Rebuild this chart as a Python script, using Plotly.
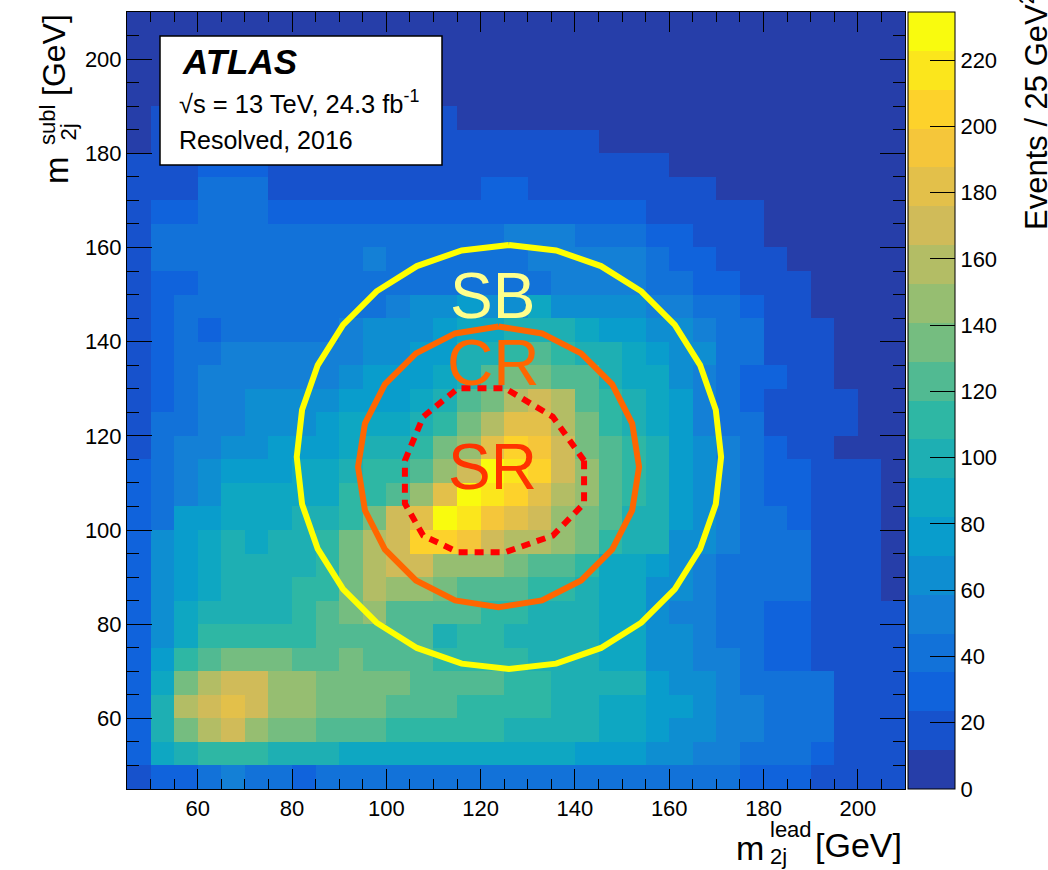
import math
import plotly.graph_objects as go

# ---------------- data ----------------
x_edges = [45 + 5 * i for i in range(34)]   # m_2j^lead bin edges [GeV]
y_edges = [45 + 5 * i for i in range(34)]   # m_2j^subl bin edges [GeV]

# Events per 5x5 GeV bin, rows listed from top (m_subl 205-210) to bottom (45-50)
counts_top_down = [
    [6]*33,
    [6]*33,
    [6]*33,
    [6]*33,
    [6] + [18]*13 + [6]*19,
    [6] + [18]*19 + [6]*13,
    [18, 18, 18, 29, 29, 29] + [18]*17 + [6]*10,
    [18, 18, 18, 41, 41, 41] + [18]*9 + [29, 29] + [18]*8 + [6]*8,
    [18, 29, 29, 41, 41, 41] + [29]*16 + [18]*5 + [6]*6,
    [18] + [41]*15 + [53, 53, 53] + [41]*3 + [29, 29] + [18]*3 + [6]*6,
    [18] + [41]*9 + [53] + [41]*6 + [53]*5 + [41, 29, 29, 18, 18, 18] + [6]*5,
    [18, 29, 29] + [41]*15 + [53]*4 + [41, 41, 29, 29, 18, 18, 18, 6, 6, 6, 6],
    [18, 29, 41, 41, 41, 41, 41, 41, 41, 41, 41, 53, 65, 65, 76, 65, 65, 88, 65, 65, 65, 65, 53, 53, 41, 41, 29, 18, 18, 6, 6, 6, 6],
    [18, 29, 41, 29, 41, 41, 41, 41, 41, 53, 65, 65, 65, 76, 88, 88, 100, 100, 100, 88, 76, 76, 65, 65, 53, 41, 41, 18, 18, 18, 6, 6, 6],
    [18, 29, 41, 41, 53, 53, 53, 53, 53, 53, 65, 65, 76, 76, 100, 100, 111, 123, 111, 100, 100, 88, 76, 65, 65, 41, 41, 18, 18, 18, 6, 6, 6],
    [18, 29, 41, 53, 53, 53, 53, 53, 53, 65, 76, 76, 76, 88, 100, 123, 135, 135, 123, 123, 100, 88, 88, 65, 53, 41, 29, 29, 18, 18, 6, 6, 6],
    [18, 29, 41, 53, 53, 65, 65, 65, 65, 76, 76, 76, 88, 100, 123, 135, 158, 170, 158, 123, 111, 100, 88, 76, 53, 41, 29, 18, 18, 18, 18, 6, 6],
    [18, 41, 41, 53, 53, 65, 65, 65, 76, 88, 88, 88, 100, 111, 135, 158, 182, 182, 158, 135, 111, 100, 88, 76, 53, 41, 41, 18, 18, 18, 18, 6, 6],
    [18, 41, 53, 53, 65, 65, 76, 76, 76, 88, 100, 100, 111, 135, 147, 182, 205, 193, 170, 135, 123, 111, 100, 76, 65, 53, 41, 29, 18, 18, 6, 6, 6],
    [29, 41, 53, 65, 76, 76, 76, 88, 88, 100, 111, 111, 123, 147, 170, 229, 217, 205, 170, 147, 123, 111, 100, 76, 65, 53, 41, 29, 29, 18, 18, 18, 6],
    [29, 41, 53, 65, 88, 88, 88, 88, 88, 111, 111, 123, 147, 182, 229, 217, 205, 182, 158, 147, 123, 111, 100, 76, 65, 53, 41, 29, 29, 18, 18, 18, 6],
    [29, 41, 76, 76, 88, 88, 88, 100, 100, 111, 135, 170, 182, 234, 217, 193, 182, 170, 147, 135, 123, 100, 100, 76, 65, 53, 41, 41, 29, 18, 18, 18, 6],
    [29, 65, 76, 88, 100, 88, 100, 100, 111, 135, 158, 170, 205, 205, 193, 170, 158, 158, 147, 135, 111, 100, 100, 65, 65, 53, 41, 41, 41, 18, 18, 18, 6],
    [29, 65, 76, 88, 100, 100, 100, 100, 111, 135, 158, 170, 170, 147, 147, 147, 135, 123, 123, 111, 88, 88, 76, 65, 53, 41, 41, 41, 41, 18, 18, 18, 6],
    [29, 65, 76, 88, 100, 100, 100, 111, 111, 135, 158, 147, 147, 135, 123, 123, 123, 111, 111, 100, 88, 88, 65, 65, 53, 41, 41, 41, 41, 18, 18, 18, 6],
    [29, 65, 88, 100, 100, 100, 100, 111, 123, 135, 147, 123, 123, 123, 123, 111, 111, 100, 100, 100, 88, 88, 65, 53, 53, 41, 41, 29, 29, 18, 18, 18, 18],
    [29, 65, 88, 111, 111, 111, 111, 111, 123, 123, 123, 123, 123, 100, 111, 111, 100, 100, 100, 100, 88, 88, 65, 65, 53, 41, 41, 29, 29, 18, 18, 18, 18],
    [29, 76, 111, 123, 135, 135, 135, 123, 123, 135, 123, 123, 123, 111, 111, 111, 111, 100, 100, 100, 88, 88, 65, 65, 53, 53, 41, 29, 29, 18, 18, 18, 18],
    [29, 88, 135, 158, 170, 170, 147, 147, 135, 135, 135, 135, 123, 123, 123, 123, 111, 111, 100, 100, 100, 100, 76, 65, 65, 53, 41, 41, 41, 41, 18, 18, 18],
    [29, 100, 158, 170, 182, 170, 147, 147, 135, 135, 135, 123, 123, 123, 111, 111, 111, 111, 100, 100, 88, 88, 76, 76, 65, 53, 53, 41, 41, 41, 18, 18, 18],
    [29, 100, 135, 158, 170, 147, 135, 135, 123, 123, 123, 111, 111, 111, 111, 111, 100, 100, 100, 100, 88, 88, 76, 65, 65, 53, 53, 41, 41, 41, 18, 18, 18],
    [29, 88, 100, 111, 111, 111, 100, 100, 100, 88, 88, 88, 88, 88, 88, 88, 88, 88, 88, 76, 76, 76, 65, 65, 53, 53, 41, 41, 41, 29, 18, 18, 18],
    [18, 29, 29, 41, 53, 41, 41, 29, 41, 41, 41, 41, 41, 41, 41, 41, 41, 41, 41, 41, 41, 41, 41, 41, 41, 41, 29, 29, 29, 18, 18, 18, 18],
]
z_counts = counts_top_down[::-1]
z_max = 234.5

# region definitions: (centre lead, centre subl, radius) [GeV]
sb_circle = (126.0, 115.5, 45.0)
cr_circle = (123.8, 113.4, 29.8)
sr_def = (120.0, 110.0, 1.6)   # X_hh = sqrt(((ml-120)/0.1ml)^2 + ((ms-110)/0.1ms)^2) < 1.6

x_tick_vals = [60, 80, 100, 120, 140, 160, 180, 200]
y_tick_vals = [60, 80, 100, 120, 140, 160, 180, 200]
cb_tick_vals = [0, 20, 40, 60, 80, 100, 120, 140, 160, 180, 200, 220]

# ---------------- styling ----------------
# ROOT kBird palette, 20 contour levels
bird_stops = [0.0, 0.125, 0.25, 0.375, 0.5, 0.625, 0.75, 0.875, 1.0]
bird_r = [0.2082, 0.0592, 0.0780, 0.0232, 0.1802, 0.5301, 0.8186, 0.9956, 0.9764]
bird_g = [0.1664, 0.3599, 0.5041, 0.6419, 0.7178, 0.7492, 0.7328, 0.7862, 0.9832]
bird_b = [0.5293, 0.8684, 0.8385, 0.7914, 0.6425, 0.4662, 0.3499, 0.1968, 0.0539]


def bird(f):
    for k in range(len(bird_stops) - 1):
        if f <= bird_stops[k + 1]:
            t = (f - bird_stops[k]) / (bird_stops[k + 1] - bird_stops[k])
            r = bird_r[k] + t * (bird_r[k + 1] - bird_r[k])
            g = bird_g[k] + t * (bird_g[k + 1] - bird_g[k])
            b = bird_b[k] + t * (bird_b[k + 1] - bird_b[k])
            return "rgb(%d,%d,%d)" % (round(r * 255), round(g * 255), round(b * 255))
    return "rgb(249,251,14)"


n_levels = 20
colorscale = []
for i in range(n_levels):
    c = bird(min(1.0, (i + 0.99) / n_levels))
    colorscale.append([i / n_levels, c])
    colorscale.append([(i + 1) / n_levels, c])

x_centres = [(x_edges[i] + x_edges[i + 1]) / 2 for i in range(len(x_edges) - 1)]
y_centres = [(y_edges[i] + y_edges[i + 1]) / 2 for i in range(len(y_edges) - 1)]

FONT = "Liberation Sans, Arial, Helvetica, sans-serif"

fig = go.Figure()
fig.add_trace(go.Heatmap(
    x=x_centres, y=y_centres, z=z_counts,
    zmin=0, zmax=z_max, colorscale=colorscale,
    hoverinfo="skip",
    colorbar=dict(
        x=1.004, xanchor="left", y=0, yanchor="bottom", len=1, lenmode="fraction",
        thickness=47, thicknessmode="pixels", xpad=0, ypad=0,
        outlinewidth=1, outlinecolor="black",
        tickvals=cb_tick_vals, ticks="inside", ticklen=25, tickwidth=1, tickcolor="black",
        tickfont=dict(family=FONT, size=22, color="black"),
    ),
))


def polygon(cx, cy, r, n, offset):
    xs, ys = [], []
    for k in range(n + 1):
        a = offset + 2 * math.pi * k / n
        xs.append(cx + r * math.cos(a))
        ys.append(cy + r * math.sin(a))
    return xs, ys


sbx, sby = polygon(*sb_circle, 28, math.pi / 2)
crx, cry = polygon(*cr_circle, 20, math.pi / 2)

n_sr = 12
srx, sry = [], []
for k in range(n_sr + 1):
    a = math.pi / n_sr + 2 * math.pi * k / n_sr
    u = sr_def[2] * math.cos(a)
    v = sr_def[2] * math.sin(a)
    srx.append(sr_def[0] / (1 - u / 10))
    sry.append(sr_def[1] / (1 - v / 10))

fig.add_trace(go.Scatter(x=sbx, y=sby, mode="lines", line=dict(color="#ffff00", width=6),
                         hoverinfo="skip", showlegend=False))
fig.add_trace(go.Scatter(x=crx, y=cry, mode="lines", line=dict(color="#ff6600", width=6),
                         hoverinfo="skip", showlegend=False))
fig.add_trace(go.Scatter(x=srx, y=sry, mode="lines",
                         line=dict(color="#ff0000", width=6, dash="9px,7px"),
                         hoverinfo="skip", showlegend=False))

W, H = 1048, 870
L, R, T, B = 127, 143, 12, 81


def px(xp):
    return (xp - L) / (W - L - R)


def py(yp):
    return (H - B - yp) / (H - T - B)


annotations = [
    dict(x=122.6, y=149.7, xref="x", yref="y", text="SB", showarrow=False,
         font=dict(family=FONT, size=64, color="#ffff8c")),
    dict(x=122.7, y=135.5, xref="x", yref="y", text="CR", showarrow=False,
         font=dict(family=FONT, size=64, color="#ff6600")),
    dict(x=122.5, y=113.4, xref="x", yref="y", text="SR", showarrow=False,
         font=dict(family=FONT, size=64, color="#ff3300")),
    # legend box text
    dict(x=px(180), y=py(61), xref="paper", yref="paper", xanchor="left", yanchor="middle",
         text="<b><i>ATLAS</i></b>", showarrow=False, font=dict(family=FONT, size=35, color="black")),
    dict(x=px(177), y=py(102), xref="paper", yref="paper", xanchor="left", yanchor="middle",
         text="\u221As = 13 TeV, 24.3 fb<sup>-1</sup>", showarrow=False,
         font=dict(family=FONT, size=25.5, color="black")),
    dict(x=px(177), y=py(140), xref="paper", yref="paper", xanchor="left", yanchor="middle",
         text="Resolved, 2016", showarrow=False, font=dict(family=FONT, size=25, color="black")),
    # x axis title pieces
    dict(x=px(766), y=py(848), xref="paper", yref="paper", xanchor="right", yanchor="middle",
         text="m", showarrow=False, font=dict(family=FONT, size=34, color="black")),
    dict(x=px(768), y=py(829), xref="paper", yref="paper", xanchor="left", yanchor="middle",
         text="lead", showarrow=False, font=dict(family=FONT, size=22, color="black")),
    dict(x=px(768), y=py(856), xref="paper", yref="paper", xanchor="left", yanchor="middle",
         text="2j", showarrow=False, font=dict(family=FONT, size=22, color="black")),
    dict(x=px(904), y=py(845), xref="paper", yref="paper", xanchor="right", yanchor="middle",
         text="[GeV]", showarrow=False, font=dict(family=FONT, size=34, color="black")),
    # y axis title pieces (rotated)
    dict(x=px(54), y=py(12), xref="paper", yref="paper", xanchor="center", yanchor="top",
         text="[GeV]", textangle=-90, showarrow=False, font=dict(family=FONT, size=32, color="black")),
    dict(x=px(47), y=py(103), xref="paper", yref="paper", xanchor="center", yanchor="top",
         text="subl", textangle=-90, showarrow=False, font=dict(family=FONT, size=22, color="black")),
    dict(x=px(68), y=py(122), xref="paper", yref="paper", xanchor="center", yanchor="top",
         text="2j", textangle=-90, showarrow=False, font=dict(family=FONT, size=22, color="black")),
    dict(x=px(56), y=py(154), xref="paper", yref="paper", xanchor="center", yanchor="top",
         text="m", textangle=-90, showarrow=False, font=dict(family=FONT, size=33, color="black")),
    # colour bar title (clipped at the top edge, as in the original)
    dict(x=px(1034), y=py(-10), xref="paper", yref="paper", xanchor="center", yanchor="top",
         text="Events / 25 GeV<sup>2</sup>", textangle=-90, showarrow=False,
         font=dict(family=FONT, size=31, color="black")),
]

axis_common = dict(
    range=[45, 210], showgrid=False, zeroline=False,
    showline=True, linecolor="black", linewidth=1, mirror="allticks",
    ticks="inside", tickcolor="black", tickwidth=1,
    tickfont=dict(family=FONT, size=22, color="black"),
)

fig.update_layout(
    width=W, height=H,
    margin=dict(l=L, r=R, t=T, b=B),
    paper_bgcolor="white", plot_bgcolor="white",
    xaxis=dict(**axis_common, tickvals=x_tick_vals, ticklen=20,
               minor=dict(dtick=5, ticks="inside", ticklen=10, tickcolor="black")),
    yaxis=dict(**axis_common, tickvals=y_tick_vals, ticklen=25,
               minor=dict(dtick=5, ticks="inside", ticklen=12, tickcolor="black")),
    annotations=annotations,
    shapes=[dict(type="rect", xref="paper", yref="paper",
                 x0=px(160), x1=px(442), y0=py(165), y1=py(36),
                 fillcolor="white", line=dict(color="black", width=1.5), layer="above")],
    showlegend=False,
)

fig.write_html("out.html")
